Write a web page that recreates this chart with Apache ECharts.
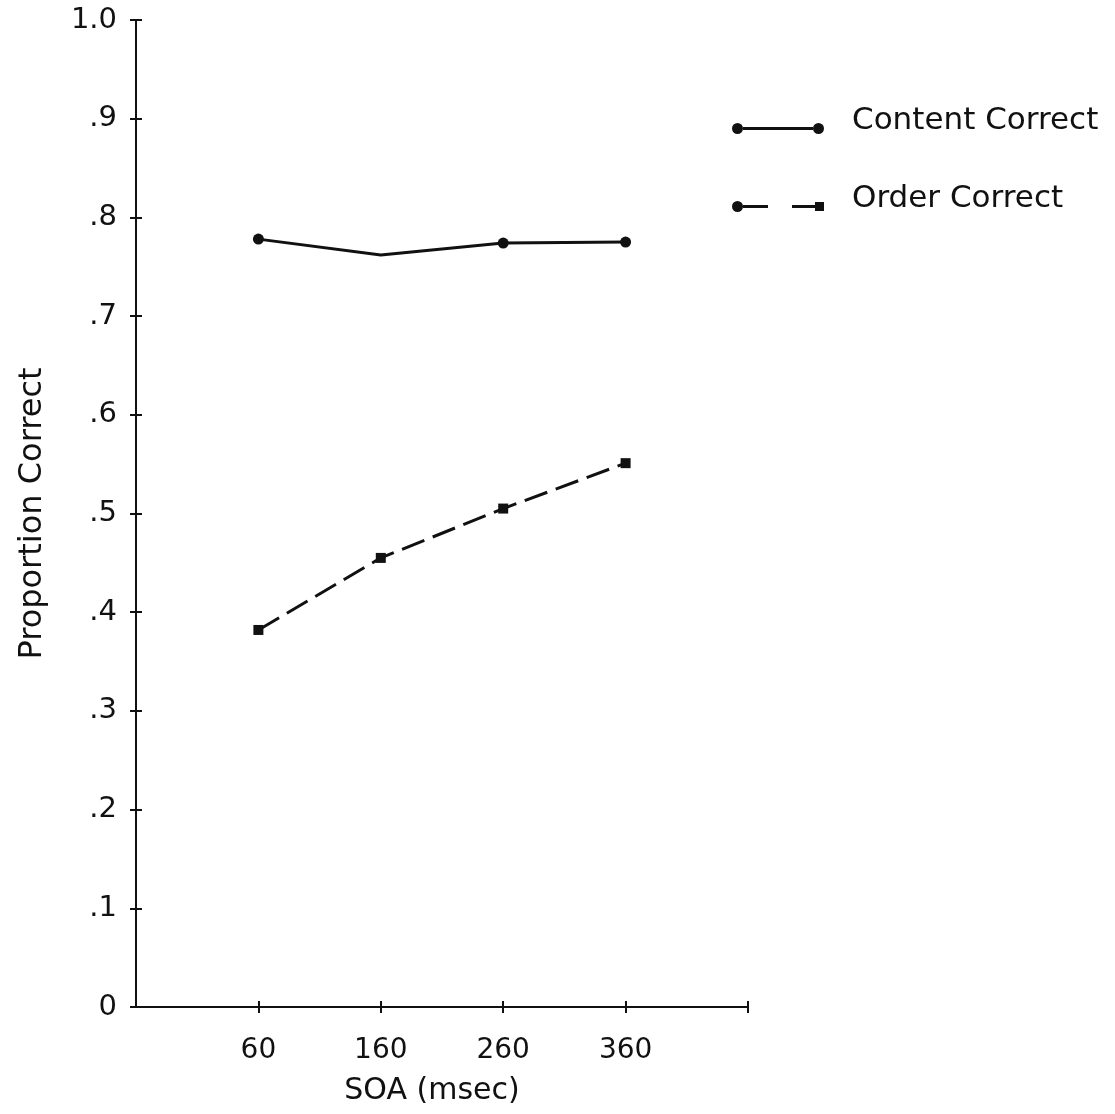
<!DOCTYPE html>
<html>
<head>
<meta charset="utf-8">
<script src="https://cdn.jsdelivr.net/npm/echarts@6/dist/echarts.min.js"></script>
<style>
  html, body { margin: 0; padding: 0; background: #fff; }
  #chart { width: 1115px; height: 1114px; }
</style>
</head>
<body>
<div id="chart"></div>
<script>
// SOA conditions (msec) and proportion correct for each scoring method
const soa = [60, 160, 260, 360];
const contentCorrect = [0.778, 0.762, 0.774, 0.775];
const orderCorrect = [0.382, 0.455, 0.505, 0.551];
const xTickValues = [60, 160, 260, 360, 460];
const xLabelValues = [60, 160, 260, 360];

const FONT = 'DejaVu Sans';
const INK = '#111';

function yLabel(v) {
  const n = Math.round(v * 10);
  if (n === 0) return '0';
  if (n === 10) return '1.0';
  return '.' + n;
}

// legend glyphs: line sample with end markers, drawn in the lower part of a
// 92 x 27 box so the label sits a little above the sample line
const anchor = 'M46,0L46.01,0L46.01,0.01Z';
const contentIcon = 'path://' + anchor +
  'M0,21.5A5.5,5.5 0 1,0 11,21.5A5.5,5.5 0 1,0 0,21.5Z' +
  'M11,20L81,20L81,23L11,23Z' +
  'M81,21.5A5.5,5.5 0 1,0 92,21.5A5.5,5.5 0 1,0 81,21.5Z';
const orderIcon = 'path://' + anchor +
  'M0,21.5A5.5,5.5 0 1,0 11,21.5A5.5,5.5 0 1,0 0,21.5Z' +
  'M11,20L36,20L36,23L11,23Z' +
  'M60,20L83,20L83,23L60,23Z' +
  'M83,17L92,17L92,26L83,26Z';

const chart = echarts.init(document.getElementById('chart'), null, { renderer: 'canvas' });

const legendText = {
  fontFamily: FONT, fontSize: 31, color: INK,
  padding: [0, 0, 0, 23]
};

chart.setOption({
  animation: false,
  backgroundColor: '#fff',
  grid: { left: 136, top: 20, right: 367, bottom: 107, containLabel: false },
  legend: [
    {
      data: [{ name: 'Content Correct', icon: contentIcon }],
      left: 727, top: 100, itemWidth: 92, itemHeight: 27,
      textStyle: legendText, selectedMode: false
    },
    {
      data: [{ name: 'Order Correct', icon: orderIcon }],
      left: 727, top: 178, itemWidth: 92, itemHeight: 27,
      textStyle: legendText, selectedMode: false
    }
  ],
  xAxis: [
    {
      type: 'value', min: -40, max: 460,
      name: 'SOA (msec)', nameLocation: 'middle', nameGap: 69,
      nameTextStyle: { fontFamily: FONT, fontSize: 30, color: INK, padding: [0, 20, 0, 0] },
      axisLine: { show: true, onZero: false, lineStyle: { color: INK, width: 2 } },
      axisTick: { show: true, length: 6, customValues: xTickValues, lineStyle: { color: INK, width: 2 } },
      axisLabel: { show: true, customValues: xLabelValues, margin: 30,
        fontFamily: FONT, fontSize: 28, color: INK },
      splitLine: { show: false }
    },
    {
      // inner half of the crossing tick marks
      type: 'value', min: -40, max: 460, position: 'bottom', offset: 0,
      axisLine: { show: false, onZero: false },
      axisTick: { show: true, inside: true, length: 6, customValues: xTickValues, lineStyle: { color: INK, width: 2 } },
      axisLabel: { show: false },
      splitLine: { show: false }
    }
  ],
  yAxis: [
    {
      type: 'value', min: 0, max: 1, interval: 0.1,
      name: 'Proportion Correct', nameLocation: 'middle', nameGap: 87,
      nameTextStyle: { fontFamily: FONT, fontSize: 32, color: INK },
      axisLine: { show: true, onZero: false, lineStyle: { color: INK, width: 2 } },
      axisTick: { show: true, length: 6, lineStyle: { color: INK, width: 2 } },
      axisLabel: { margin: 19, fontFamily: FONT, fontSize: 29, color: INK, formatter: yLabel },
      splitLine: { show: false }
    },
    {
      type: 'value', min: 0, max: 1, interval: 0.1, position: 'left', offset: 0,
      axisLine: { show: false, onZero: false },
      axisTick: { show: true, inside: true, length: 6, lineStyle: { color: INK, width: 2 } },
      axisLabel: { show: false },
      splitLine: { show: false }
    }
  ],
  series: [
    {
      name: 'Content Correct', type: 'line',
      data: soa.map((x, i) => ({
        value: [x, contentCorrect[i]],
        symbolSize: x === 160 ? 0 : 11
      })),
      symbol: 'circle',
      lineStyle: { color: INK, width: 3, type: 'solid' },
      itemStyle: { color: INK },
      z: 3
    },
    {
      name: 'Order Correct', type: 'line',
      data: soa.map((x, i) => [x, orderCorrect[i]]),
      symbol: 'rect', symbolSize: 10,
      lineStyle: { color: INK, width: 3, type: [24, 9] },
      itemStyle: { color: INK },
      z: 3
    }
  ]
});
</script>
</body>
</html>
